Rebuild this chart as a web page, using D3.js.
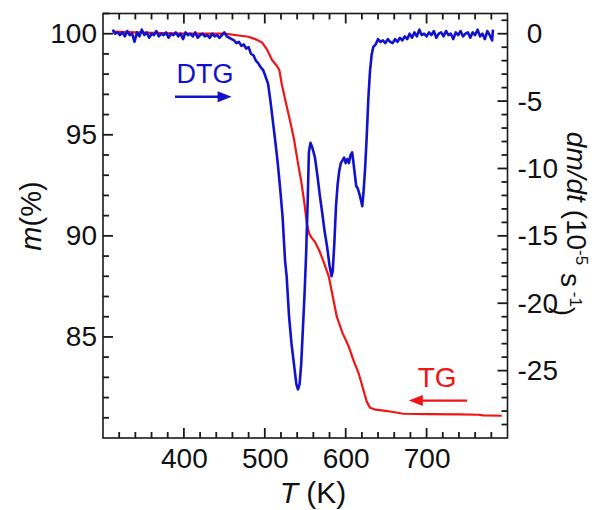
<html>
<head>
    <meta charset="utf-8">
    <script src="https://d3js.org/d3.v7.min.js"></script>
    <style>
        body { margin: 0; background: #fff; }
        text { font-family: "Liberation Sans", Arial, sans-serif; }
    </style>
</head>
<body>
<svg id="chart"></svg>
<script>
    // TG curve: temperature (K) and mass (%)
    const tgT = [312, 350, 400, 450, 470, 480, 490, 497, 503, 509, 515, 518, 521, 526, 530, 536, 541, 545, 549, 552,
                 555, 558, 562, 567, 572, 579, 584, 589, 596, 604, 610, 616, 621, 626, 630, 637, 647, 657, 671, 700,
                 740, 764, 770, 793];
    const tgM = [100.1, 100.05, 100.0, 100.0, 99.9, 99.85, 99.7, 99.55, 99.2, 98.7, 98.4, 98.2, 97.5, 96.6, 95.9, 94.8, 93.6, 92.7, 91.6, 90.6,
                 90.1, 89.9, 89.7, 89.3, 88.8, 88.0, 87.0, 86.0, 85.2, 84.5, 83.8, 83.2, 82.5, 81.8, 81.5, 81.4, 81.35, 81.3, 81.2, 81.18,
                 81.17, 81.15, 81.12, 81.1];

    // DTG curve: temperature (K) and dm/dt (10^-5 s^-1)
    const dtgT = [312, 315, 318, 321, 324, 327, 330, 333, 336, 339, 342, 345, 348, 351, 354, 357, 360, 363, 366, 369,
                  372, 375, 378, 381, 384, 387, 390, 393, 396, 399, 402, 405, 408, 411, 414, 417, 420, 423, 426, 429,
                  432, 435, 438, 441, 444, 447, 450, 453, 456, 459, 462, 465, 468, 471, 474, 477, 480, 483, 486, 489,
                  492, 495, 498, 501, 504, 507, 510, 513, 516, 519, 522, 525, 527, 530, 533, 536, 539, 541, 543, 545,
                  547, 549, 551, 553, 554.5, 556.5, 559, 562, 565, 568, 571, 574, 577, 580, 582.5, 584, 586, 588, 590, 592,
                  594, 596, 598, 600, 602, 604, 606, 608, 609.5, 611, 613, 615, 617, 619, 620.5, 622, 624, 626, 628, 630,
                  632, 634, 637, 640, 643, 646, 649, 652, 655, 658, 661, 664, 667, 670, 673, 676, 679, 682, 685, 688,
                  691, 694, 697, 700, 703, 706, 709, 712, 715, 718, 721, 724, 727, 730, 733, 736, 739, 742, 745, 748,
                  751, 754, 757, 760, 763, 766, 769, 772, 775, 778, 781, 782];
    const dtgV = [0.3, 0.0, 0.1, -0.1, 0.1, -0.2, 0.2, -0.1, 0.0, -0.6, 0.1, -0.2, 0.3, -0.1, 0.1, -0.3, 0.0, -0.1, 0.2, -0.2,
                  0.0, -0.1, 0.1, -0.3, 0.0, -0.1, 0.1, -0.2, 0.0, -0.4, 0.1, -0.1, 0.0, -0.2, 0.1, -0.3, -0.1, 0.0, -0.2, -0.1,
                  -0.3, 0.0, -0.2, -0.1, -0.3, -0.1, 0.1, -0.2, -0.3, -0.4, -0.5, -0.7, -0.6, -0.9, -0.8, -1.1, -1.0, -1.5, -1.6, -2.0,
                  -2.2, -2.5, -2.7, -3.2, -3.7, -5.0, -6.5, -8.0, -9.6, -11.5, -13.6, -16.8, -18.0, -21.0, -23.0, -24.5, -26.0, -26.4, -26.0, -24.5,
                  -22.0, -19.5, -16.5, -12.5, -8.8, -8.1, -8.5, -9.2, -10.5, -12.0, -13.3, -14.7, -15.8, -17.2, -18.0, -17.6, -15.5, -12.8, -11.2, -10.2,
                  -9.6, -9.4, -9.2, -9.6, -9.3, -9.6, -9.0, -8.8, -9.5, -10.3, -11.3, -11.5, -11.9, -12.4, -12.8, -11.8, -10.0, -7.6, -4.8, -2.8,
                  -1.6, -1.0, -0.8, -0.4, -0.6, -0.5, -0.7, -0.4, -0.6, -0.7, -0.4, -0.6, -0.3, -0.5, -0.2, -0.4, 0.0, -0.3, 0.1, -0.2,
                  0.3, -0.1, 0.0, -0.2, 0.1, -0.1, 0.2, -0.3, 0.0, 0.1, -0.2, 0.2, -0.1, 0.0, -0.4, 0.1, -0.1, 0.2, -0.2, 0.0,
                  0.1, -0.3, 0.1, -0.1, 0.3, -0.2, 0.0, -0.4, 0.2, -0.1, -0.5, 0.3];

    // ticks
    const xMajor = [400, 500, 600, 700];
    const xMinor = [320, 340, 360, 380, 420, 440, 460, 480, 520, 540, 560, 580, 620, 640, 660, 680, 720, 740, 760, 780];
    const mMajor = [85, 90, 95, 100];
    const mMinor = [81, 82, 83, 84, 86, 87, 88, 89, 91, 92, 93, 94, 96, 97, 98, 99, 101];
    const rMajor = [0, -5, -10, -15, -20, -25];
    const rMinor = [1, -1, -2, -3, -4, -6, -7, -8, -9, -11, -12, -13, -14, -16, -17, -18, -19, -21, -22, -23, -24, -26, -27, -28, -29];

    // annotations (data coords)
    const dtgLabel = {T: 391, m: 97.55, from: 389, to: 459, am: 96.88};
    const tgLabel = {T: 689, m: 82.52, from: 750, to: 678, am: 81.85};

    const width = 603, height = 510;
    const plotL = 103, plotR = 507.5, plotT = 13.5, plotB = 438;
    const blue = '#1212cc', red = '#f21414', axisColor = '#1a1a1a';
    const majorLen = 10, minorLen = 6;

    const svg = d3.select('#chart').attr('width', width).attr('height', height);

    const x = d3.scaleLinear().domain([300, 800]).range([plotL, plotR]);
    const yL = d3.scaleLinear().domain([80, 101]).range([plotB, plotT]);
    const yR = d3.scaleLinear().domain([-30, 1.5]).range([plotB, plotT]);

    // tick labels via d3 axes (tick lines are drawn separately at the end)
    function styleAxis(g) {
        g.select('.domain').remove();
        g.selectAll('.tick line').remove();
        g.selectAll('.tick text').attr('fill', '#111').style('font-size', '28px')
            .style('font-family', '"Liberation Sans", Arial, sans-serif');
    }
    svg.append('g').attr('transform', `translate(0,${plotB})`)
        .call(d3.axisBottom(x).tickValues(xMajor).tickSize(0).tickPadding(10).tickFormat(d => String(d)))
        .call(styleAxis);
    svg.append('g').attr('transform', `translate(${plotL},0)`)
        .call(d3.axisLeft(yL).tickValues(mMajor).tickSize(0).tickPadding(6).tickFormat(d => String(d)))
        .call(styleAxis);
    const rAxis = svg.append('g').attr('transform', `translate(${plotR},0)`)
        .call(d3.axisRight(yR).tickValues(rMajor).tickSize(0).tickPadding(10).tickFormat(d => String(d)))
        .call(styleAxis);
    // zero label sits where the digits of the negative labels start
    rAxis.selectAll('.tick text').attr('dx', d => d >= 0 ? '0.33em' : 0);

    // curves
    const tgData = tgT.map((t, i) => [t, tgM[i]]);
    const dtgData = dtgT.map((t, i) => [t, dtgV[i]]);

    svg.append('path').datum(tgData)
        .attr('fill', 'none').attr('stroke', red).attr('stroke-width', 2.2)
        .attr('stroke-linejoin', 'round')
        .attr('d', d3.line().x(d => x(d[0])).y(d => yL(d[1])));

    svg.append('path').datum(dtgData)
        .attr('fill', 'none').attr('stroke', blue).attr('stroke-width', 2.6)
        .attr('stroke-linejoin', 'round')
        .attr('d', d3.line().x(d => x(d[0])).y(d => yR(d[1])));

    // annotations
    function arrow(a, color) {
        const x1 = x(a.from), x2 = x(a.to), yy = yL(a.am);
        const dir = x2 > x1 ? 1 : -1;
        svg.append('line')
            .attr('x1', x1).attr('x2', x2 - dir * 10).attr('y1', yy).attr('y2', yy)
            .attr('stroke', color).attr('stroke-width', 2.4);
        svg.append('path')
            .attr('d', `M${x2},${yy} L${x2 - dir * 14},${yy - 5.5} L${x2 - dir * 14},${yy + 5.5} Z`)
            .attr('fill', color);
    }
    svg.append('text').attr('x', x(dtgLabel.T)).attr('y', yL(dtgLabel.m))
        .attr('fill', blue).style('font-size', '27px').text('DTG');
    arrow(dtgLabel, blue);
    svg.append('text').attr('x', x(tgLabel.T)).attr('y', yL(tgLabel.m))
        .attr('fill', red).style('font-size', '28px').text('TG');
    arrow(tgLabel, red);

    // axis titles
    svg.append('text')
        .attr('transform', 'translate(41,216) rotate(-90)')
        .attr('text-anchor', 'middle').style('font-size', '29px').attr('fill', '#111')
        .call(t => {
            t.append('tspan').style('font-style', 'italic').text('m');
            t.append('tspan').text('(%)');
        });

    svg.append('text')
        .attr('x', 313).attr('y', 503)
        .attr('text-anchor', 'middle').style('font-size', '30px').attr('fill', '#111')
        .call(t => {
            t.append('tspan').style('font-style', 'italic').text('T');
            t.append('tspan').text(' (K)');
        });

    svg.append('text')
        .attr('transform', 'translate(567,224) rotate(90)')
        .attr('text-anchor', 'middle').style('font-size', '28px').attr('fill', '#111')
        .call(t => {
            t.append('tspan').style('font-style', 'italic').text('dm/dt');
            t.append('tspan').text(' (10');
            t.append('tspan').attr('dy', '-0.55em').style('font-size', '17px').text('-5');
            t.append('tspan').attr('dy', '0.55em').text(' s');
            t.append('tspan').attr('dy', '-0.55em').style('font-size', '17px').text(' -1');
            t.append('tspan').attr('dy', '0.55em').text(')');
        });

    // frame
    svg.append('rect')
        .attr('x', plotL).attr('y', plotT).attr('width', plotR - plotL).attr('height', plotB - plotT)
        .attr('fill', 'none').attr('stroke', axisColor).attr('stroke-width', 1.6);

    // inward tick marks on all four sides, one line each
    const tickG = svg.append('g');
    function tick(x1, y1, x2, y2) {
        tickG.append('line')
            .attr('x1', x1).attr('y1', y1).attr('x2', x2).attr('y2', y2)
            .attr('stroke', axisColor).attr('stroke-width', 1.8);
    }
    xMajor.forEach(v => { tick(x(v), plotB, x(v), plotB - majorLen); tick(x(v), plotT, x(v), plotT + majorLen); });
    xMinor.forEach(v => { tick(x(v), plotB, x(v), plotB - minorLen); tick(x(v), plotT, x(v), plotT + minorLen); });
    mMajor.forEach(v => tick(plotL, yL(v), plotL + majorLen, yL(v)));
    mMinor.forEach(v => tick(plotL, yL(v), plotL + minorLen, yL(v)));
    rMajor.forEach(v => tick(plotR, yR(v), plotR - majorLen, yR(v)));
    rMinor.forEach(v => tick(plotR, yR(v), plotR - minorLen, yR(v)));
</script>
</body>
</html>
